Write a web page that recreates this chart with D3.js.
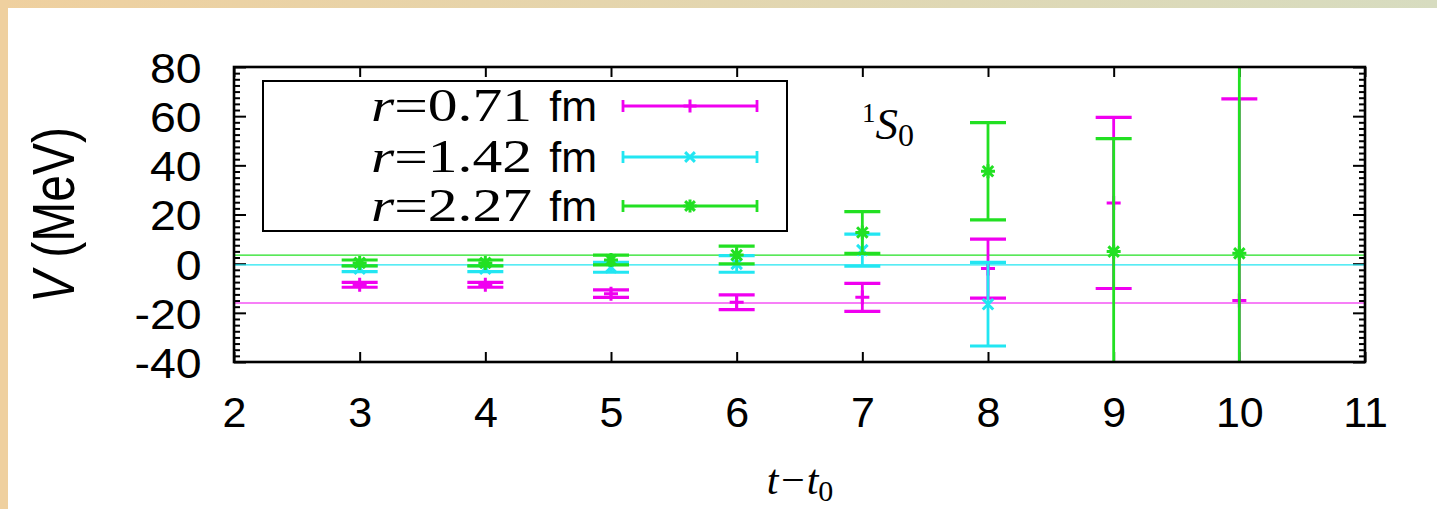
<!DOCTYPE html>
<html>
<head>
<meta charset="utf-8">
<script src="https://cdn.jsdelivr.net/npm/d3@7"></script>
<style>
  html, body { margin: 0; padding: 0; background: #fff; }
  svg { display: block; }
</style>
</head>
<body>
<svg id="chart" width="1437" height="509"></svg>
<script>
// Time slices t - t0
const stepsAll = [3, 4, 5, 6, 7, 8, 9, 10];
const stepsCyan = [3, 4, 5, 6, 7, 8];

// r = 0.71 fm
const potShort = [-8.6, -8.6, -12.2, -15.7, -13.7, -2.0, 24.7, -15.0];
const errShort = [1.0, 1.0, 1.5, 3.0, 5.7, 12.0, 34.8, 82.0];

// r = 1.42 fm
const potMid = [-2.0, -2.0, -1.5, -0.1, 5.5, -16.5];
const errMid = [1.2, 1.2, 2.0, 3.4, 6.5, 17.0];

// r = 2.27 fm
const potLong = [0.3, 0.3, 1.5, 3.5, 12.7, 37.6, 4.9, 4.2];
const errLong = [1.2, 1.2, 2.0, 3.6, 8.5, 19.8, 46.0, 95.0];

// constant fit values drawn across the plot
const fitValues = [-16.0, -0.5, 3.5];

const seriesLabels = ["0.71", "1.42", "2.27"];
const xTickValues = [2, 3, 4, 5, 6, 7, 8, 9, 10, 11];
const yTickValues = [-40, -20, 0, 20, 40, 60, 80];

const colors = ["#f000f0", "#22e6f2", "#22e022"];
const markerKinds = ["plus", "cross", "star"];

const series = [
  { t: stepsAll, v: potShort, e: errShort },
  { t: stepsCyan, v: potMid, e: errMid },
  { t: stepsAll, v: potLong, e: errLong }
];

const svg = d3.select("#chart");
const W = 1437, H = 509;
const pLeft = 234, pRight = 1365, pTop = 67, pBottom = 362;

// page frame bands
const defs = svg.append("defs");
const grad = defs.append("linearGradient").attr("id", "band").attr("x1", 0).attr("x2", 1);
grad.append("stop").attr("offset", 0).attr("stop-color", "#efd09f");
grad.append("stop").attr("offset", 1).attr("stop-color", "#d7dcc0");
svg.append("rect").attr("x", 0).attr("y", 0).attr("width", W).attr("height", 8).attr("fill", "url(#band)");
svg.append("rect").attr("x", 0).attr("y", 0).attr("width", 8).attr("height", H).attr("fill", "#efd09f");

defs.append("clipPath").attr("id", "plotclip")
  .append("rect").attr("x", pLeft).attr("y", pTop).attr("width", pRight - pLeft).attr("height", pBottom - pTop);

const x = d3.scaleLinear().domain([2, 11]).range([pLeft, pRight]);
const y = d3.scaleLinear().domain([-40, 80]).range([pBottom, pTop]);

const fontSans = "'Liberation Sans', Arial, sans-serif";
const fontSerif = "'Liberation Serif', 'Times New Roman', serif";

// axes (ticks pointing inward on all four sides)
const yMinor = d3.range(-40, 80.001, 2.5).filter(v => !yTickValues.includes(v));
const plainNumber = d => String(d);

function styleAxis(g) {
  g.select(".domain").remove();
  g.selectAll("line").attr("stroke", "#000").attr("stroke-width", 2);
}

svg.append("g").attr("transform", `translate(0,${pBottom})`)
  .call(d3.axisBottom(x).tickValues(xTickValues).tickSizeInner(-10).tickSizeOuter(0).tickPadding(0).tickFormat(plainNumber))
  .call(styleAxis)
  .call(g => g.selectAll("text").attr("y", 65).attr("dy", 0)
    .attr("font-family", fontSans).attr("font-size", 43).attr("fill", "#000"));

svg.append("g").attr("transform", `translate(0,${pTop})`)
  .call(d3.axisTop(x).tickValues(xTickValues).tickSizeInner(-10).tickSizeOuter(0).tickFormat(""))
  .call(styleAxis);

svg.append("g").attr("transform", `translate(${pLeft},0)`)
  .call(d3.axisLeft(y).tickValues(yTickValues).tickSizeInner(-12).tickSizeOuter(0).tickPadding(0).tickFormat(plainNumber))
  .call(styleAxis)
  .call(g => g.selectAll("text").attr("x", -30).attr("dy", "0.36em")
    .attr("font-family", fontSans).attr("font-size", 43).attr("fill", "#000")
    .attr("transform", "scale(1.08,1)"));

svg.append("g").attr("transform", `translate(${pLeft},0)`)
  .call(d3.axisLeft(y).tickValues(yMinor).tickSizeInner(-6).tickSizeOuter(0).tickFormat(""))
  .call(styleAxis);

svg.append("g").attr("transform", `translate(${pRight},0)`)
  .call(d3.axisRight(y).tickValues(yTickValues).tickSizeInner(-12).tickSizeOuter(0).tickFormat(""))
  .call(styleAxis);

svg.append("g").attr("transform", `translate(${pRight},0)`)
  .call(d3.axisRight(y).tickValues(yMinor).tickSizeInner(-6).tickSizeOuter(0).tickFormat(""))
  .call(styleAxis);

// plot content
const plot = svg.append("g").attr("clip-path", "url(#plotclip)");

plot.selectAll("line.fit").data(fitValues).join("line")
  .attr("class", "fit")
  .attr("x1", pLeft).attr("x2", pRight)
  .attr("y1", d => y(d)).attr("y2", d => y(d))
  .attr("stroke", (d, i) => colors[i]).attr("stroke-width", 1.2);

function markerPath(kind, s) {
  const p = d3.path();
  if (kind === "plus" || kind === "star") {
    p.moveTo(-s, 0); p.lineTo(s, 0); p.moveTo(0, -s); p.lineTo(0, s);
  }
  if (kind === "cross" || kind === "star") {
    const c = s * 0.75;
    p.moveTo(-c, -c); p.lineTo(c, c); p.moveTo(-c, c); p.lineTo(c, -c);
  }
  return p.toString();
}

const capHalf = 18;
series.forEach((s, si) => {
  const pts = s.t.map((t, i) => ({ t, v: s.v[i], e: s.e[i] }));
  const g = plot.append("g").attr("stroke", colors[si]).attr("fill", "none");
  g.selectAll("line.bar").data(pts).join("line")
    .attr("class", "bar")
    .attr("x1", d => x(d.t)).attr("x2", d => x(d.t))
    .attr("y1", d => y(d.v - d.e)).attr("y2", d => y(d.v + d.e))
    .attr("stroke-width", 2.8);
  [-1, 1].forEach(sign => {
    g.selectAll("line.cap" + (sign > 0 ? "hi" : "lo")).data(pts).join("line")
      .attr("class", "cap" + (sign > 0 ? "hi" : "lo"))
      .attr("x1", d => x(d.t) - capHalf).attr("x2", d => x(d.t) + capHalf)
      .attr("y1", d => y(d.v + sign * d.e)).attr("y2", d => y(d.v + sign * d.e))
      .attr("stroke-width", 3.2);
  });
  g.selectAll("path.mk").data(pts).join("path")
    .attr("class", "mk")
    .attr("transform", d => `translate(${x(d.t)},${y(d.v)})`)
    .attr("d", markerPath(markerKinds[si], 7))
    .attr("stroke-width", 3);
});

// frame
svg.append("rect").attr("x", pLeft).attr("y", pTop).attr("width", pRight - pLeft).attr("height", pBottom - pTop)
  .attr("fill", "none").attr("stroke", "#000").attr("stroke-width", 2.6);

// legend
const lg = svg.append("g");
lg.append("rect").attr("x", 263).attr("y", 81).attr("width", 524).attr("height", 150)
  .attr("fill", "#fff").attr("stroke", "#000").attr("stroke-width", 2);
const rowY = [106, 157, 206];
seriesLabels.forEach((lab, i) => {
  const t = lg.append("text").attr("x", 371).attr("y", rowY[i] + 15)
    .attr("font-family", fontSerif).attr("font-size", 47).attr("fill", "#000")
    .attr("textLength", 161).attr("lengthAdjust", "spacingAndGlyphs");
  t.append("tspan").attr("font-style", "italic").text("r");
  t.append("tspan").text("=" + lab);
  lg.append("text").attr("x", 597).attr("y", rowY[i] + 15).attr("text-anchor", "end")
    .attr("font-family", fontSans).attr("font-size", 43).attr("fill", "#000").text("fm");
  const gl = lg.append("g").attr("stroke", colors[i]).attr("fill", "none").attr("stroke-width", 2.8);
  gl.append("line").attr("x1", 623).attr("x2", 757).attr("y1", rowY[i]).attr("y2", rowY[i]);
  [623, 757].forEach(cx => gl.append("line").attr("x1", cx).attr("x2", cx).attr("y1", rowY[i] - 6).attr("y2", rowY[i] + 6));
  gl.append("path").attr("transform", `translate(690,${rowY[i]})`).attr("d", markerPath(markerKinds[i], 6.5)).attr("stroke-width", 3);
});

// channel label 1S0
const ch = svg.append("text").attr("x", 862).attr("y", 139).attr("font-family", fontSerif).attr("fill", "#000");
ch.append("tspan").attr("font-size", 27).attr("dy", -17).text("1");
ch.append("tspan").attr("font-size", 45).attr("font-style", "italic").attr("dy", 17).text("S");
ch.append("tspan").attr("font-size", 32).attr("dy", 7).text("0");

// axis titles
const yt = svg.append("text").attr("transform", "translate(74,215) scale(1.25,1) rotate(-90)")
  .attr("text-anchor", "middle").attr("font-family", fontSans).attr("font-size", 48).attr("fill", "#000");
yt.append("tspan").attr("font-style", "italic").text("V");
yt.append("tspan").text(" (MeV)");

const xt = svg.append("text").attr("x", 800).attr("y", 494).attr("text-anchor", "middle")
  .attr("font-family", fontSerif).attr("font-style", "italic").attr("font-size", 42).attr("fill", "#000");
xt.append("tspan").text("t\u2212t");
xt.append("tspan").attr("font-size", 30).attr("font-style", "normal").attr("dy", 7).text("0");
</script>
</body>
</html>
